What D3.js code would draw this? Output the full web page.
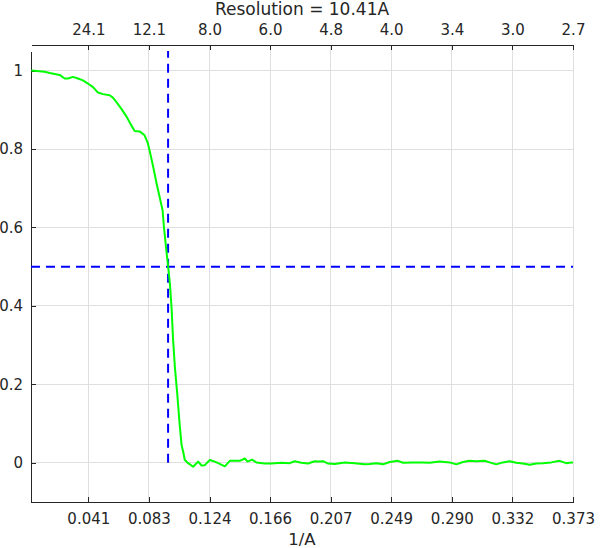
<!DOCTYPE html>
<html><head><meta charset="utf-8">
<script src="https://cdn.jsdelivr.net/npm/d3@7"></script>
<style>
html,body{margin:0;padding:0;background:#fff;}
svg{display:block;font-family:"DejaVu Sans",sans-serif;}
</style></head>
<body>
<svg id="chart" width="601" height="548"></svg>
<script>
// ---- data ----
const freq = [0.0025,0.0116,0.0151,0.0219,0.0253,0.0276,0.0310,0.0344,0.0378,0.0412,0.0447,0.0481,0.0515,0.0561,0.0583,0.0606,0.0640,0.0674,0.0708,0.0732,0.0766,0.0800,0.0822,0.0836,0.0859,0.0882,0.0905,0.0923,0.0932,0.0946,0.0961,0.0973,0.0984,0.0995,0.1007,0.1023,0.1041,0.1053,0.1064,0.1075,0.1087,0.1098,0.1132,0.1166,0.1190,0.1212,0.1246,0.1280,0.1303,0.1349,0.1383,0.1417,0.1451,0.1486,0.1504,0.1535,0.1565,0.1622,0.1668,0.1736,0.1793,0.1827,0.1873,0.1918,0.1964,0.1987,0.2021,0.2055,0.2101,0.2169,0.2237,0.2306,0.2340,0.2386,0.2431,0.2477,0.2533,0.2568,0.2636,0.2704,0.2750,0.2818,0.2887,0.2933,0.2978,0.3023,0.3069,0.3126,0.3160,0.3206,0.3251,0.3297,0.3343,0.3388,0.3434,0.3479,0.3524,0.3582,0.3639,0.3684,0.3719,0.3731];
const fsc = [1.000,0.997,0.994,0.989,0.980,0.980,0.984,0.980,0.975,0.967,0.958,0.944,0.940,0.937,0.931,0.920,0.903,0.884,0.861,0.846,0.845,0.835,0.815,0.793,0.754,0.712,0.674,0.644,0.602,0.551,0.500,0.457,0.398,0.313,0.245,0.177,0.092,0.045,0.028,0.007,0.003,-0.001,-0.010,0.003,-0.007,-0.006,0.007,0.003,-0.001,-0.009,0.005,0.005,0.005,0.011,0.003,0.008,0.001,-0.002,-0.002,0.000,-0.001,0.004,0.000,-0.002,0.004,0.003,0.004,-0.002,-0.003,0.001,-0.001,-0.004,-0.003,-0.001,-0.004,0.002,0.005,0.000,0.001,0.001,0.000,0.003,0.001,-0.004,0.002,0.005,0.004,0.005,0.001,-0.004,0.001,0.004,0.000,-0.002,-0.005,-0.002,-0.001,0.001,0.005,-0.001,0.001,0.000];
const xTicks = [0.0415,0.0829,0.1244,0.1658,0.2073,0.2487,0.2902,0.3316,0.3731];
const xTickLabels = ["0.041","0.083","0.124","0.166","0.207","0.249","0.290","0.332","0.373"];
const topTickLabels = ["24.1","12.1","8.0","6.0","4.8","4.0","3.4","3.0","2.7"];
const yTicks = [0,0.2,0.4,0.6,0.8,1];
const yTickLabels = ["0","0.2","0.4","0.6","0.8","1"];
const resolution = 10.41;
const threshold = 0.5;
const titleText = "Resolution = 10.41A";
const xLabel = "1/A";

// ---- layout ----
const L = 31, R = 573, T = 51, B = 502, TOPAXIS = 45;
const txt = "#262626";
const svg = d3.select("#chart");
const x = d3.scaleLinear().domain([0.00227, 0.3731]).range([L, R]);
const y = d3.scaleLinear().domain([-0.1, 1.05]).range([B, T]);

// grid
const g = svg.append("g");
g.selectAll("line.vg").data(xTicks).enter().append("line")
  .attr("x1", d => x(d)).attr("x2", d => x(d)).attr("y1", TOPAXIS).attr("y2", B)
  .attr("stroke", "#dfdfdf").attr("stroke-width", 1).attr("shape-rendering","crispEdges");
g.selectAll("line.hg").data(yTicks).enter().append("line")
  .attr("x1", L).attr("x2", R).attr("y1", d => y(d)).attr("y2", d => y(d))
  .attr("stroke", "#dfdfdf").attr("stroke-width", 1).attr("shape-rendering","crispEdges");

// bottom axis
const bottomAxis = d3.axisBottom(x).tickValues(xTicks).tickFormat((d,i) => xTickLabels[i]).tickSizeInner(-5).tickSizeOuter(0).tickPadding(11);
const gb = svg.append("g").attr("transform", `translate(0,${B})`).call(bottomAxis);
// top axis
const topAxis = d3.axisTop(x).tickValues(xTicks).tickFormat((d,i) => topTickLabels[i]).tickSizeInner(-5).tickSizeOuter(0).tickPadding(10);
const gt = svg.append("g").attr("transform", `translate(0,${TOPAXIS})`).call(topAxis);
// left axis
const leftAxis = d3.axisLeft(y).tickValues(yTicks).tickFormat((d,i) => yTickLabels[i]).tickSizeInner(-5).tickSizeOuter(0).tickPadding(8);
const gl = svg.append("g").attr("transform", `translate(${L},0)`).call(leftAxis);

[gb, gt, gl].forEach(a => {
  a.select(".domain").attr("stroke", txt).attr("stroke-width", 1).attr("shape-rendering","crispEdges");
  a.selectAll(".tick line").attr("stroke", txt).attr("shape-rendering","crispEdges");
  a.selectAll(".tick text").attr("fill", txt).attr("font-size", 15).attr("font-family", "DejaVu Sans");
});

// threshold lines
svg.append("line")
  .attr("x1", x(1/resolution)).attr("x2", x(1/resolution))
  .attr("y1", y(0)).attr("y2", y(1.05))
  .attr("stroke", "#0000ff").attr("stroke-width", 2).attr("stroke-dasharray", "9,6");
svg.append("line")
  .attr("x1", x(0.00227)).attr("x2", x(0.3731))
  .attr("y1", y(threshold)).attr("y2", y(threshold))
  .attr("stroke", "#0000ff").attr("stroke-width", 2).attr("stroke-dasharray", "9,6");

// curve
const pts = freq.map((f,i) => [f, fsc[i]]);
svg.append("path").datum(pts)
  .attr("d", d3.line().x(d => x(d[0])).y(d => y(d[1])))
  .attr("fill", "none").attr("stroke", "#00ff00").attr("stroke-width", 2).attr("stroke-linejoin","round");

// title & label
svg.append("text").attr("x", (L+R)/2).attr("y", 15).attr("text-anchor","middle")
  .attr("fill", txt).attr("font-size", 17).text(titleText);
svg.append("text").attr("x", (L+R)/2).attr("y", 545).attr("text-anchor","middle")
  .attr("fill", txt).attr("font-size", 16.5).text(xLabel);
</script>
</body></html>
